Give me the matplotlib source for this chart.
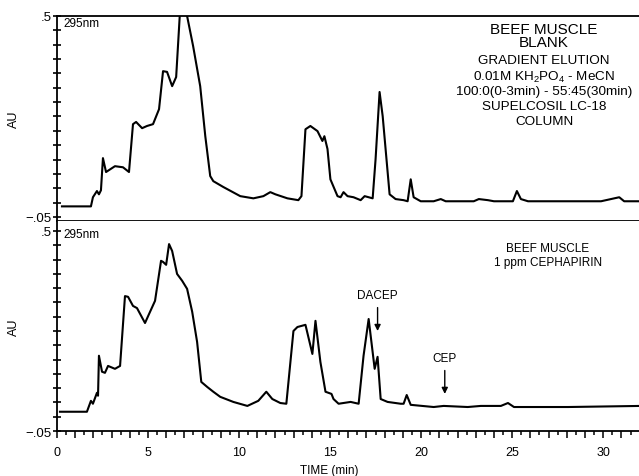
import numpy as np
import matplotlib
matplotlib.use("Agg")
import matplotlib.pyplot as plt
from matplotlib.ticker import FixedLocator, FuncFormatter

plt.rcParams['font.family'] = ['Liberation Sans', 'DejaVu Sans']
plt.rcParams['mathtext.fontset'] = 'custom'
plt.rcParams['mathtext.rm'] = 'Liberation Sans'
plt.rcParams['mathtext.it'] = 'Liberation Sans'

# blank chromatogram (time in min, absorbance in AU)
blank_t = [0.28, 1.87, 1.98, 2.20, 2.31, 2.42, 2.53, 2.70, 3.19, 3.63, 3.96, 4.18,
           4.35, 4.68, 4.95, 5.28, 5.61, 5.83, 6.05, 6.33, 6.55, 6.77, 7.04, 7.15,
           7.48, 7.87, 8.15, 8.42, 8.59, 9.14, 10.07, 10.79, 11.34, 11.72, 12.00,
           12.66, 13.26, 13.43, 13.65, 13.92, 14.31, 14.58, 14.69, 14.86, 15.02,
           15.41, 15.58, 15.74, 15.96, 16.29, 16.68, 16.90, 17.34, 17.50, 17.72,
           17.89, 18.05, 18.27, 18.60, 19.04, 19.26, 19.43, 19.59, 19.98, 20.69,
           21.08, 21.35, 22.89, 23.17, 23.67, 24.00, 25.04, 25.26, 25.48, 25.87,
           29.88, 30.88, 31.15, 32.05]
blank_au = [-0.021, -0.021, 0.004, 0.021, 0.012, 0.023, 0.111, 0.073, 0.089, 0.086,
            0.073, 0.204, 0.210, 0.193, 0.199, 0.204, 0.245, 0.349, 0.347, 0.308,
            0.333, 0.52, 0.53, 0.50, 0.418, 0.308, 0.171, 0.062, 0.048, 0.032,
            0.007, 0.001, 0.007, 0.018, 0.012, 0.001, -0.004, 0.007, 0.190, 0.199,
            0.185, 0.158, 0.171, 0.136, 0.053, 0.007, 0.004, 0.018, 0.007, 0.004,
            -0.004, 0.007, 0.001, 0.108, 0.292, 0.226, 0.136, 0.012, -0.001, -0.004,
            -0.007, 0.053, 0.004, -0.007, -0.007, -0.001, -0.007, -0.007, -0.001,
            -0.004, -0.007, -0.007, 0.021, -0.001, -0.007, -0.007, 0.004, -0.007,
            -0.007]

# fortified sample, 1 ppm cephapirin
spiked_t = [0.17, 1.65, 1.87, 1.98, 2.20, 2.26, 2.31, 2.48, 2.64, 2.81, 3.19, 3.47,
            3.74, 3.91, 4.18, 4.40, 4.84, 5.01, 5.39, 5.72, 5.83, 6.00, 6.16, 6.33,
            6.60, 6.88, 7.15, 7.43, 7.70, 7.93, 8.26, 8.59, 8.97, 9.69, 10.46, 11.06,
            11.50, 11.83, 12.27, 12.60, 12.99, 13.21, 13.65, 14.03, 14.20, 14.47,
            14.75, 15.08, 15.19, 15.47, 16.13, 16.57, 16.84, 17.12, 17.45, 17.61,
            17.78, 18.16, 18.88, 19.04, 19.21, 19.43, 20.69, 21.24, 22.56, 23.28,
            24.38, 24.77, 25.10, 28.07, 32.05]
spiked_au = [0.003, 0.003, 0.033, 0.025, 0.055, 0.047, 0.157, 0.113, 0.110, 0.129,
             0.121, 0.129, 0.321, 0.319, 0.294, 0.288, 0.247, 0.266, 0.308, 0.418,
             0.415, 0.407, 0.464, 0.445, 0.382, 0.363, 0.341, 0.278, 0.195, 0.085,
             0.071, 0.058, 0.044, 0.030, 0.019, 0.033, 0.058, 0.038, 0.027, 0.025,
             0.225, 0.236, 0.242, 0.162, 0.253, 0.140, 0.058, 0.052, 0.038, 0.025,
             0.030, 0.025, 0.157, 0.258, 0.121, 0.154, 0.038, 0.030, 0.025, 0.025,
             0.049, 0.022, 0.016, 0.019, 0.016, 0.019, 0.019, 0.027, 0.016, 0.016,
             0.019]

peaks = ["DACEP", "CEP"]
peak_t = [17.61, 21.30]
peak_au = [0.225, 0.052]

blank_lines = ["BEEF MUSCLE", "BLANK", "GRADIENT ELUTION",
               "0.01M KH$_2$PO$_4$ - MeCN", "100:0(0-3min) - 55:45(30min)",
               "SUPELCOSIL LC-18", "COLUMN"]
spiked_lines = ["BEEF MUSCLE", "1 ppm CEPHAPIRIN"]

fig = plt.figure(figsize=(6.39, 4.77), dpi=100)
ax1 = fig.add_axes([0.089, 0.5346, 0.912, 0.4298])
ax2 = fig.add_axes([0.089, 0.0943, 0.912, 0.4403])

lw = 1.5
ax1.plot(blank_t, blank_au, color='black', lw=lw, solid_joinstyle='round')
ax2.plot(spiked_t, spiked_au, color='black', lw=lw, solid_joinstyle='round')

ax1.set_ylim(-0.061, 0.5)
ax2.set_ylim(-0.05, 0.5275)


def au_label(v, pos):
    if abs(v - 0.5) < 1e-6:
        return '.5'
    if abs(v + 0.05) < 1e-6:
        return '\u2212.05'
    return ''


for ax in (ax1, ax2):
    ax.set_xlim(0, 32)
    ax.spines['right'].set_visible(False)
    for s in ax.spines.values():
        s.set_linewidth(1.3)
    ax.yaxis.set_major_locator(FixedLocator(np.linspace(-0.05, 0.5, 15)))
    ax.yaxis.set_major_formatter(FuncFormatter(au_label))
    ax.tick_params(axis='y', which='major', direction='inout', length=6, width=1.2,
                   labelsize=9.5, pad=1)
    ax.set_ylabel('AU', fontsize=9, labelpad=4)

ax1.text(0.012, 0.48, '295nm', transform=ax1.get_yaxis_transform(), fontsize=8.5,
         va='center', ha='left')
ax2.text(0.012, 0.493, '295nm', transform=ax2.get_yaxis_transform(), fontsize=8.5,
         va='center', ha='left')

ax2.spines['top'].set_visible(False)
ax1.tick_params(axis='x', which='both', bottom=False, labelbottom=False)

ax2.xaxis.set_major_locator(FixedLocator(np.arange(0, 33, 1)))
ax2.xaxis.set_minor_locator(FixedLocator(np.arange(0.5, 32, 1)))
ax2.xaxis.set_major_formatter(FuncFormatter(lambda v, p: f'{int(v)}' if v % 5 == 0 else ''))
ax2.tick_params(axis='x', which='major', length=5, width=1.1, labelsize=9, pad=6)
ax2.tick_params(axis='x', which='minor', length=3, width=1.1)
fig.text((57 + 15 * 18.17) / 639, 1 - 471 / 477, 'TIME (min)', fontsize=8.5,
         ha='center', va='center')

# text block, top panel
ys = [30, 43, 61, 77, 92, 107, 122]
for i, (line, y) in enumerate(zip(blank_lines, ys)):
    ax1.text(26.75, 0.5 - (y - 17) / 365, line, fontsize=11 if i < 2 else 9.7,
             ha='center', va='center')

for line, y in zip(spiked_lines, [249, 263]):
    ax2.text(26.97, 0.5 - (y - 232) / 364, line, fontsize=8.5, ha='center', va='center')

for name, t, a in zip(peaks, peak_t, peak_au):
    ax2.annotate(name, xy=(t, a), xytext=(t, a + 0.1), fontsize=8.5,
                 ha='center', va='center',
                 arrowprops=dict(arrowstyle='-|>', color='black', lw=1.0,
                                 mutation_scale=9, shrinkA=3, shrinkB=0))

fig.savefig('out.png', dpi=100)
